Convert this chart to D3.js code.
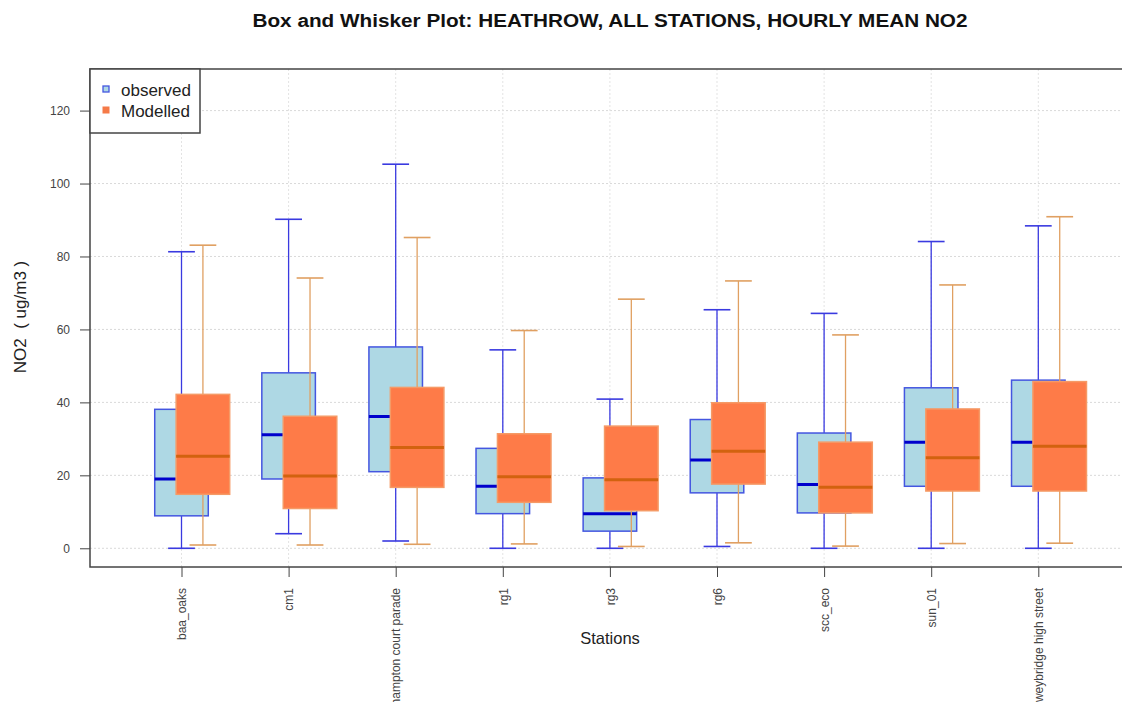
<!DOCTYPE html>
<html>
<head>
<meta charset="utf-8">
<script src="https://cdn.jsdelivr.net/npm/d3@7"></script>
<style>
    body { margin: 0; background: #fff; }
    svg { display: block; font-family: "Liberation Sans", Arial, sans-serif; }
</style>
</head>
<body>
<svg id="chart"></svg>
<script>
// станции
let stations = ['baa_oaks', 'cm1', 'hampton court parade', 'rg1', 'rg3', 'rg6', 'scc_eco', 'sun_01', 'weybridge high street'];

// observed: min, q1, median, q3, max
let obsMin = [0, 4, 2, 0, 0, 0.5, 0, 0, 0];
let obsQ1 = [8.9, 19, 21, 9.5, 4.7, 15.2, 9.7, 17, 17];
let obsMed = [19, 31.1, 36.1, 17, 9.5, 24.2, 17.5, 29.1, 29.1];
let obsQ3 = [38.1, 48.1, 55.2, 27.4, 19.3, 35.3, 31.6, 44, 46.1];
let obsMax = [81.3, 90.2, 105.3, 54.4, 40.9, 65.4, 64.4, 84.1, 88.4];

// Modelled: min, q1, median, q3, max
let modMin = [0.9, 0.9, 1.1, 1.2, 0.5, 1.5, 0.6, 1.3, 1.4];
let modQ1 = [14.8, 10.9, 16.7, 12.6, 10.3, 17.6, 9.7, 15.7, 15.7];
let modMed = [25.2, 19.8, 27.6, 19.6, 18.8, 26.6, 16.7, 24.8, 28];
let modQ3 = [42.2, 36.2, 44.1, 31.4, 33.5, 39.9, 29.1, 38.2, 45.7];
let modMax = [83.1, 74.1, 85.2, 59.7, 68.3, 73.3, 58.5, 72.2, 90.9];

let yTicks = [0, 20, 40, 60, 80, 100, 120];

let width = 1122;
let height = 702;

let svg = d3.select("#chart")
    .attr("width", width)
    .attr("height", height);

// рамка области построения
let plotL = 90, plotR = 1128, plotT = 69, plotB = 567;

let scaleX = d3.scaleLinear()
    .domain([0, stations.length - 1])
    .range([181.5, 1038.3]);

let scaleY = d3.scaleLinear()
    .domain([-5.13, 131.4])
    .range([plotB, plotT]);

let unit = scaleX(1) - scaleX(0);
let boxW = 0.5 * unit;
let capW = 0.25 * unit;
let shift = 0.2 * unit;

// сетка
let grid = svg.append("g");
grid.selectAll(".gy")
    .data(yTicks)
    .enter().append("line")
    .attr("x1", plotL).attr("x2", plotR)
    .attr("y1", d => scaleY(d)).attr("y2", d => scaleY(d))
    .style("stroke", "#d9d9d9").style("stroke-dasharray", "2,2");
grid.selectAll(".gx")
    .data(stations)
    .enter().append("line")
    .attr("x1", (d, i) => scaleX(i)).attr("x2", (d, i) => scaleX(i))
    .attr("y1", plotT).attr("y2", plotB)
    .style("stroke", "#e3e3e3").style("stroke-dasharray", "2,2");

// оси
let axisY = d3.axisLeft(scaleY).tickValues(yTicks).tickSize(10).tickPadding(10);
let gy = svg.append("g")
    .attr("transform", `translate(${plotL}, 0)`)
    .call(axisY);
gy.select(".domain").remove();
gy.selectAll("line").style("stroke", "#444");
gy.selectAll("text").style("font-size", "12px").style("fill", "#444");

let axisX = d3.axisBottom(scaleX).tickValues(d3.range(stations.length)).tickSize(10).tickFormat(i => stations[i]);
let gx = svg.append("g")
    .attr("transform", `translate(0, ${plotB})`)
    .call(axisX);
gx.select(".domain").remove();
gx.selectAll("line").style("stroke", "#444");
gx.selectAll("text")
    .style("font-size", "12px").style("fill", "#444")
    .attr("text-anchor", "end")
    .attr("transform", "rotate(-90)")
    .attr("x", -21).attr("y", 0).attr("dy", "0.35em");

// рисуем один набор ящиков
function drawBoxes(mins, q1, med, q3, maxs, dx, c) {
    let g = svg.append("g");
    stations.forEach(function(s, i) {
        let cx = scaleX(i) + dx;
        // усы
        g.append("line")
            .attr("x1", cx).attr("x2", cx)
            .attr("y1", scaleY(q3[i])).attr("y2", scaleY(maxs[i]))
            .style("stroke", c.whisker).style("stroke-width", 1.3);
        g.append("line")
            .attr("x1", cx).attr("x2", cx)
            .attr("y1", scaleY(q1[i])).attr("y2", scaleY(mins[i]))
            .style("stroke", c.whisker).style("stroke-width", 1.3);
        g.append("line")
            .attr("x1", cx - capW / 2).attr("x2", cx + capW / 2)
            .attr("y1", scaleY(maxs[i])).attr("y2", scaleY(maxs[i]))
            .style("stroke", c.whisker).style("stroke-width", 1.6);
        g.append("line")
            .attr("x1", cx - capW / 2).attr("x2", cx + capW / 2)
            .attr("y1", scaleY(mins[i])).attr("y2", scaleY(mins[i]))
            .style("stroke", c.whisker).style("stroke-width", 1.6);
        // ящик
        g.append("rect")
            .attr("x", cx - boxW / 2)
            .attr("y", scaleY(q3[i]))
            .attr("width", boxW)
            .attr("height", scaleY(q1[i]) - scaleY(q3[i]))
            .style("fill", c.fill).style("stroke", c.border).style("stroke-width", 1.5);
        // медиана
        g.append("line")
            .attr("x1", cx - boxW / 2).attr("x2", cx + boxW / 2)
            .attr("y1", scaleY(med[i])).attr("y2", scaleY(med[i]))
            .style("stroke", c.median).style("stroke-width", 3);
    });
}

drawBoxes(obsMin, obsQ1, obsMed, obsQ3, obsMax, 0,
    {fill: "#aed8e4", border: "#4456e0", whisker: "#3a3ae0", median: "#0000cc"});
drawBoxes(modMin, modQ1, modMed, modQ3, modMax, shift,
    {fill: "#fe7b48", border: "#f59a66", whisker: "#e0a062", median: "#d2620f"});

// рамка
svg.append("rect")
    .attr("x", plotL).attr("y", plotT)
    .attr("width", plotR - plotL).attr("height", plotB - plotT)
    .style("fill", "none").style("stroke", "#444").style("stroke-width", 1.5);

// легенда
let leg = svg.append("g");
leg.append("rect")
    .attr("x", plotL).attr("y", plotT).attr("width", 110).attr("height", 64)
    .style("fill", "#fff").style("stroke", "#444").style("stroke-width", 1.5);
leg.append("rect")
    .attr("x", 103).attr("y", 86).attr("width", 6).attr("height", 6)
    .style("fill", "#aed8e4").style("stroke", "#4456e0").style("stroke-width", 1.3);
leg.append("rect")
    .attr("x", 102.5).attr("y", 106.5).attr("width", 7).attr("height", 7)
    .style("fill", "#f57a48");
leg.append("text").attr("x", 121).attr("y", 96).text("observed")
    .style("font-size", "17px").style("fill", "#222");
leg.append("text").attr("x", 121).attr("y", 117).text("Modelled")
    .style("font-size", "17px").style("fill", "#222");

// подписи
svg.append("text")
    .attr("x", 610).attr("y", 27)
    .attr("text-anchor", "middle")
    .attr("textLength", 715).attr("lengthAdjust", "spacingAndGlyphs")
    .style("font-size", "18px").style("font-weight", "bold").style("fill", "#111")
    .text("Box and Whisker Plot: HEATHROW, ALL STATIONS, HOURLY MEAN NO2");

svg.append("text")
    .attr("x", 610).attr("y", 644)
    .attr("text-anchor", "middle")
    .style("font-size", "16.5px").style("fill", "#222")
    .text("Stations");

svg.append("text")
    .attr("transform", "translate(26, 317) rotate(-90)")
    .attr("text-anchor", "middle")
    .style("font-size", "17px").style("fill", "#222").style("white-space", "pre")
    .text("NO2  ( ug/m3 )");
</script>
</body>
</html>
